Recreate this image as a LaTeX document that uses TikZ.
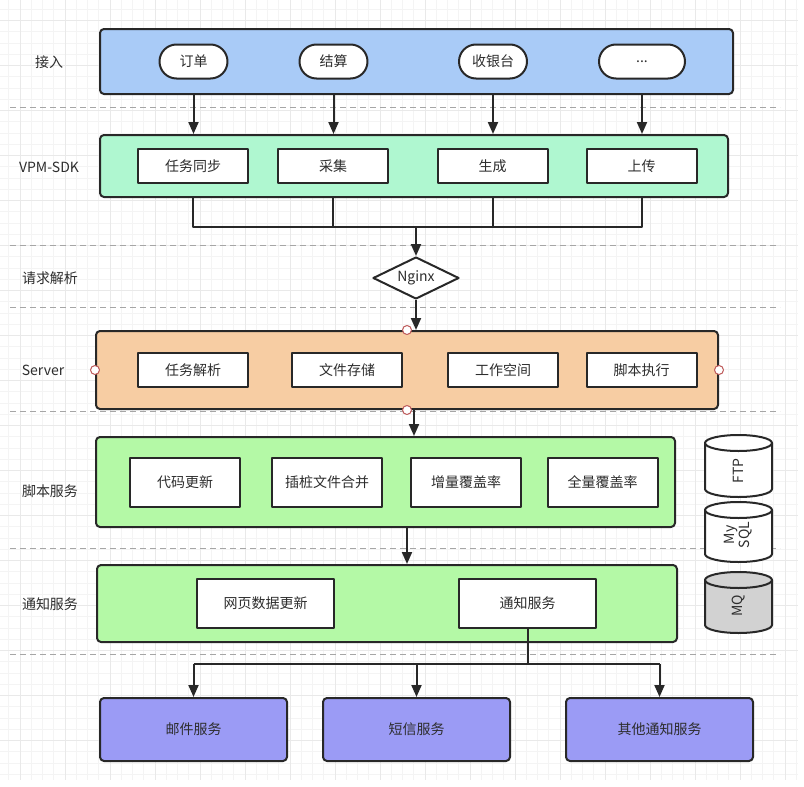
\documentclass[tikz,border=0pt]{standalone}
\usepackage{fontspec}
\setmainfont{Noto Sans CJK SC}
\usetikzlibrary{arrows.meta,shapes.geometric}
\definecolor{linegray}{RGB}{40,40,40}
\definecolor{textgray}{RGB}{45,45,45}
\definecolor{accessblue}{RGB}{169,203,247}
\definecolor{sdkmint}{RGB}{175,247,208}
\definecolor{serverpeach}{RGB}{247,205,163}
\definecolor{servicegreen}{RGB}{180,249,166}
\definecolor{sendpurple}{RGB}{155,155,245}
\definecolor{portred}{RGB}{190,90,90}
\begin{document}
\begin{tikzpicture}[x=1pt, y=-1pt, line join=round,
	lane/.style={draw=linegray, line width=2pt, rounded corners=4pt, inner sep=0pt},
	item/.style={draw=linegray, line width=2pt, fill=white, minimum width=110pt, minimum height=34pt, inner sep=0pt, text=textgray, font=\fontsize{14}{16}\selectfont},
	pill/.style={item, rounded corners=17pt, minimum width=68pt},
	sender/.style={item, fill=sendpurple, rounded corners=4pt, minimum width=187pt, minimum height=63pt},
	lanelabel/.style={text=textgray, font=\fontsize{14}{16}\selectfont},
	port/.style={circle, draw=portred, fill=white, line width=1pt, minimum size=9pt, inner sep=0pt},
	sep/.style={draw=gray!70, line width=1pt, dash pattern=on 6pt off 4pt},
	link/.style={draw=linegray, line width=2pt},
	arr/.style={link, -{Triangle[length=12pt, width=10pt]}},
	gridline/.style={draw=gray!9, line width=0.6pt},
	gridmajor/.style={draw=gray!17, line width=0.8pt},
	store/.style={draw=linegray, line width=2pt}]
	\useasboundingbox (0,0) rectangle (804,787);
	\fill[white] (0,0) rectangle (804,787);
	% background grid
	\foreach \k in {0,...,70} \draw[gridline] ({8.75+11.25*\k},0) -- ({8.75+11.25*\k},780);
	\foreach \k in {0,...,68} \draw[gridline] (0,{9.2+11.25*\k}) -- (798,{9.2+11.25*\k});
	\foreach \k in {0,...,17} \draw[gridmajor] ({20+45*\k},0) -- ({20+45*\k},780);
	\foreach \k in {0,...,16} \draw[gridmajor] (0,{20.45+45*\k}) -- (798,{20.45+45*\k});
	% layer separators
	\foreach \y in {107,245,307,411,548,654} \draw[sep] (10,\y) -- (780,\y);
	% layer names
	\node[lanelabel] (lblaccess) at (49,62) {接入};
	\node[lanelabel] (lblsdk) at (49,167) {VPM-SDK};
	\node[lanelabel] (lblparse) at (50,278) {请求解析};
	\node[lanelabel] (lblserver) at (43,370) {Server};
	\node[lanelabel] (lblscript) at (50,491) {脚本服务};
	\node[lanelabel] (lblnotify) at (50,604) {通知服务};
	% access
	\node[lane, fill=accessblue, minimum width=633pt, minimum height=65pt] (access) at (416.5,61.5) {};
	\node[pill] (order) at (193.5,61.5) {订单};
	\node[pill] (settle) at (333.5,61.5) {结算};
	\node[pill] (cashier) at (493,61.5) {收银台};
	\node[pill, minimum width=86pt] (more) at (642,61.5) {...};
	% sdk
	\node[lane, fill=sdkmint, minimum width=628pt, minimum height=62pt] (sdk) at (414,166) {};
	\node[item] (sync) at (193,166) {任务同步};
	\node[item] (collect) at (333,166) {采集};
	\node[item] (gen) at (492.5,166) {生成};
	\node[item] (upload) at (641.5,166) {上传};
	\foreach \n in {order,settle,cashier,more} \draw[arr] (\n |- access.south) -- (\n |- sdk.north);
	\coordinate (join) at (416,227);
	\draw[link] (sync |- sdk.south) -- (sync |- join) -- (upload |- join) -- (upload |- sdk.south);
	\draw[link] (collect |- sdk.south) -- (collect |- join);
	\draw[link] (gen |- sdk.south) -- (gen |- join);
	% nginx
	\node[diamond, draw=linegray, line width=2pt, fill=white, aspect=2.05, minimum width=86pt, minimum height=42pt, inner sep=0pt, text=textgray, font=\fontsize{14}{16}\selectfont] (nginx) at (416,278) {Nginx};
	\draw[arr] (join) -- (nginx.north);
	% server
	\node[lane, fill=serverpeach, minimum width=622pt, minimum height=78pt] (server) at (407,370) {};
	\node[item] (taskparse) at (193,370) {任务解析};
	\node[item] (filestore) at (347,370) {文件存储};
	\node[item] (workspace) at (503,370) {工作空间};
	\node[item] (runscript) at (641.5,370) {脚本执行};
	\draw[arr] (nginx.south) -- (nginx.south |- server.north);
	% script service
	\node[lane, fill=servicegreen, minimum width=579pt, minimum height=90pt] (script) at (385.5,482) {};
	\node[item, minimum height=49pt] (codeupdate) at (185,482.5) {代码更新};
	\node[item, minimum height=49pt] (merge) at (327,482.5) {插桩文件合并};
	\node[item, minimum height=49pt] (incr) at (466,482.5) {增量覆盖率};
	\node[item, minimum height=49pt] (full) at (602.5,482.5) {全量覆盖率};
	\draw[arr] ([xshift=7pt]server.south) -- ([xshift=7pt]server.south |- script.north);
	\foreach \a in {north,south,east,west} \node[port] at (server.\a) {};
	% notify service
	\node[lane, fill=servicegreen, minimum width=580pt, minimum height=77pt] (notify) at (387,603.5) {};
	\node[item, minimum width=137pt, minimum height=49pt] (webdata) at (265.5,603.5) {网页数据更新};
	\node[item, minimum width=137pt, minimum height=49pt] (notice) at (527.5,603.5) {通知服务};
	\draw[arr] (server.south |- script.south) -- (server.south |- notify.north);
	% senders
	\node[sender] (mail) at (193.5,729.5) {邮件服务};
	\node[sender] (sms) at (416.5,729.5) {短信服务};
	\node[sender] (other) at (659.5,729.5) {其他通知服务};
	\coordinate (fan) at (527.5,664);
	\draw[link] (notice.south) -- (fan);
	\draw[link] (mail |- fan) -- (other |- fan);
	\foreach \n in {mail,sms,other} \draw[arr] (\n |- fan) -- (\n.north);
	% storage
	\foreach \top/\bot/\col/\nm in {435/497/white/ftp,502/562/white/mysql,572/633/gray!35/mq}{
		\draw[store, fill=\col] (705,\top+8) -- (705,\bot-8) arc[start angle=180, end angle=0, x radius=33.5, y radius=8] -- (772,\top+8) arc[start angle=0, end angle=-180, x radius=33.5, y radius=8] -- cycle;
		\draw[store] (705,\top+8) arc[start angle=180, end angle=0, x radius=33.5, y radius=8];
	}
	\node[rotate=90, text=textgray, font=\fontsize{14}{16}\selectfont] (ftp) at (738.5,471) {FTP};
	\node[rotate=90, text=textgray, align=center, font=\fontsize{14}{15}\selectfont] (mysql) at (738.5,535) {My\\SQL};
	\node[rotate=90, text=textgray, font=\fontsize{14}{16}\selectfont] (mq) at (738.5,606) {MQ};
\end{tikzpicture}
\end{document}
